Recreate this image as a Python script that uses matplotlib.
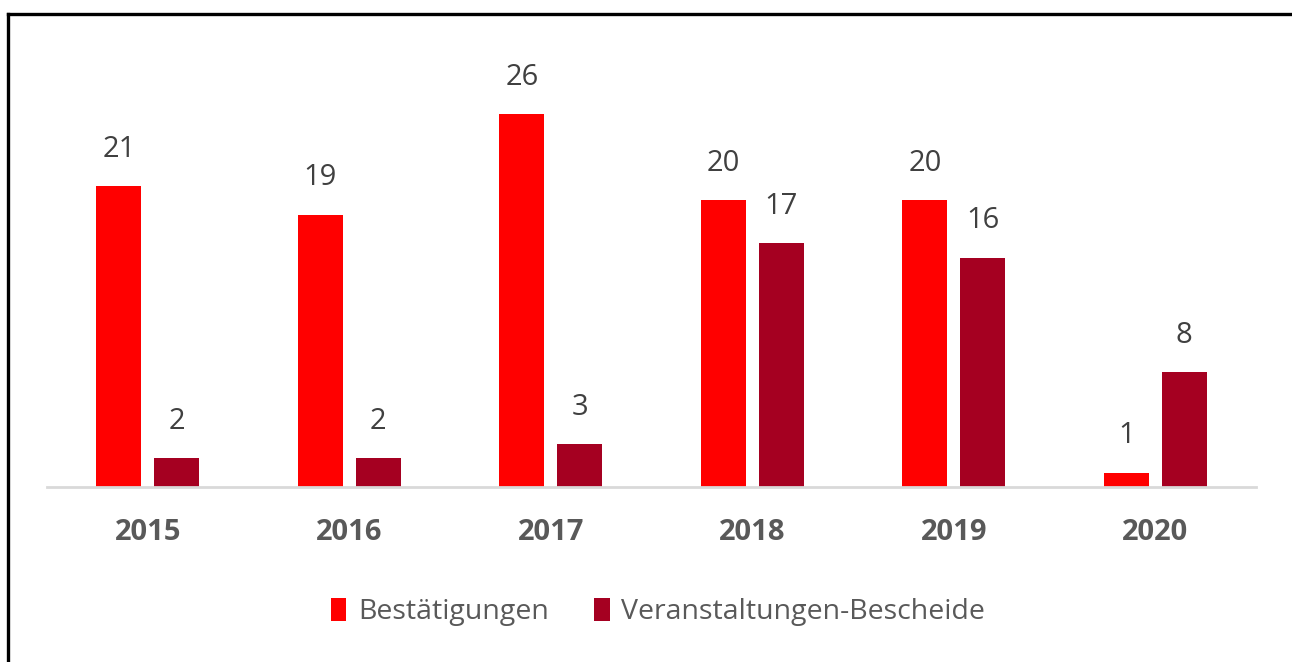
import numpy as np
import matplotlib.pyplot as plt
from matplotlib.lines import Line2D

plt.rcParams['font.family'] = ['Open Sans', 'DejaVu Sans']

years = ["2015", "2016", "2017", "2018", "2019", "2020"]
bestaetigungen = [21, 19, 26, 20, 20, 1]
bescheide = [2, 2, 3, 17, 16, 8]
series_names = ["Bestätigungen", "Veranstaltungen-Bescheide"]

RED = "#FF0000"
DARK = "#A50021"
VAL_TXT = "#404040"
CAT_TXT = "#595959"

fig = plt.figure(figsize=(12.92, 6.62), dpi=100)
ax = fig.add_axes([47 / 1292, 1 - 487 / 662, (1256 - 47) / 1292, (487 - 85.7) / 662])

x = np.arange(len(years))
width = 0.223
off = width / 2 + 0.032

bars1 = ax.bar(x - off, bestaetigungen, width=width, color=RED, label=series_names[0])
bars2 = ax.bar(x + off, bescheide, width=width, color=DARK, label=series_names[1])

for bars, vals in ((bars1, bestaetigungen), (bars2, bescheide)):
    for rect, v in zip(bars, vals):
        ax.annotate(f"{v}", (rect.get_x() + rect.get_width() / 2, v),
                    xytext=(0, 16), textcoords="offset points",
                    ha="center", va="bottom", fontsize=21, color=VAL_TXT)

ax.set_xlim(-0.5, len(years) - 0.5)
ax.set_ylim(0, 28)
ax.set_xticks(x)
ax.set_xticklabels(years, fontsize=21, fontweight="bold", color=CAT_TXT)
ax.tick_params(axis="x", length=0, pad=22)
ax.set_yticks([])
for s in ("top", "right", "left"):
    ax.spines[s].set_visible(False)
ax.spines["bottom"].set_color("#d9d9d9")
ax.spines["bottom"].set_linewidth(2)

leg = fig.legend(handles=[bars1, bars2], labels=series_names,
                 loc="center", bbox_to_anchor=(658 / 1292, 1 - 612 / 662),
                 ncol=2, frameon=False, fontsize=20.5, handlelength=0.55,
                 handleheight=0.9, handletextpad=0.4, columnspacing=1.6)
for t in leg.get_texts():
    t.set_color(CAT_TXT)

# partial outer frame (top and left edges)
fig.add_artist(Line2D([7.5 / 1292, 1], [1 - 14 / 662, 1 - 14 / 662],
                      transform=fig.transFigure, color="black", lw=2.4))
fig.add_artist(Line2D([7.5 / 1292, 7.5 / 1292], [0, 1 - 14 / 662],
                      transform=fig.transFigure, color="black", lw=2.4))

fig.savefig("out.png", dpi=100)
